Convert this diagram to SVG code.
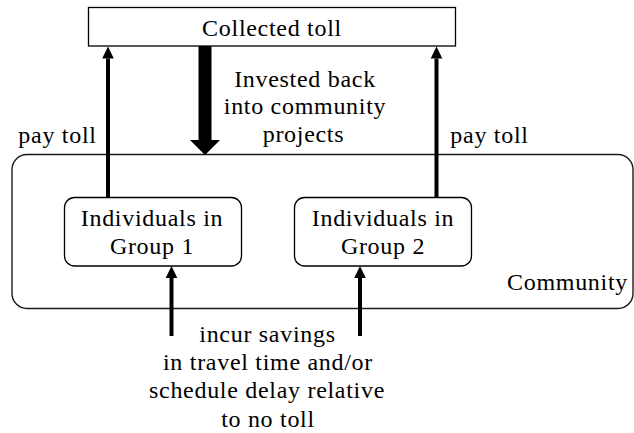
<svg xmlns="http://www.w3.org/2000/svg" width="634" height="433" viewBox="0 0 634 433">
<style>
  .t { font-family: 'Liberation Serif', 'Times New Roman', serif; font-size: 24px; letter-spacing: 0.7px; fill: #000; text-anchor: middle; }
  .end { text-anchor: end; }
  .box { fill: #fff; stroke: #000; stroke-width: 1.3; }
  .comm { fill: none; stroke: #1a1a1a; stroke-width: 1.4; }
  .arrow { stroke: #000; stroke-width: 4; fill: none; marker-end: url(#head); }
</style>
<defs>
  <marker id="head" markerUnits="userSpaceOnUse" viewBox="0 -6 12 12" markerWidth="12" markerHeight="12" refX="0" refY="0" orient="auto" overflow="visible">
    <path d="M0,-5.8 L12,0 L0,5.8 Z" fill="#000"/>
  </marker>
</defs>
<rect width="634" height="433" fill="#fff"/>

<g id="community">
  <rect class="comm" x="12" y="154.5" width="621" height="154" rx="15" ry="15"/>
  <text class="t end" x="628" y="290">Community</text>
</g>

<g id="collected-toll">
  <rect class="box" x="88.5" y="7.5" width="367" height="38.5"/>
  <text class="t" x="272" y="36">Collected toll</text>
</g>

<g id="group1">
  <rect class="box" x="64.5" y="197.5" width="177" height="68.5" rx="10" ry="10"/>
  <text class="t" x="152" y="226">Individuals in</text>
  <text class="t" x="152" y="254">Group 1</text>
</g>

<g id="group2">
  <rect class="box" x="294.5" y="197.5" width="177" height="68.5" rx="10" ry="10"/>
  <text class="t" x="383" y="226">Individuals in</text>
  <text class="t" x="383" y="254">Group 2</text>
</g>

<g id="connectors">
  <line class="arrow" x1="108" y1="197.5" x2="108" y2="58.5"/>
  <line class="arrow" x1="436.5" y1="197.5" x2="436.5" y2="58.5"/>
  <line class="arrow" x1="171.5" y1="336" x2="171.5" y2="278"/>
  <line class="arrow" x1="360" y1="336" x2="360" y2="278"/>
  <path d="M198.5,46 L211.5,46 L211.5,140 L220,140 L205,155 L190,140 L198.5,140 Z" fill="#000"/>
</g>

<g id="labels">
  <text class="t" x="305" y="87">Invested back</text>
  <text class="t" x="305" y="114">into community</text>
  <text class="t" x="303.5" y="141.5">projects</text>
  <text class="t" x="57.5" y="143">pay toll</text>
  <text class="t" x="489.5" y="143">pay toll</text>
  <text class="t" x="267.5" y="342">incur savings</text>
  <text class="t" x="268" y="370">in travel time and/or</text>
  <text class="t" x="267" y="398">schedule delay relative</text>
  <text class="t" x="268" y="426.5">to no toll</text>
</g>
</svg>
